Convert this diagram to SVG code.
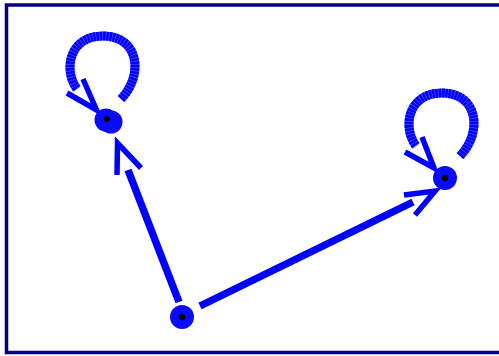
<svg xmlns="http://www.w3.org/2000/svg" width="499" height="356" viewBox="0 0 499 356">
<style>
.frame{fill:#fff;stroke:#000080;stroke-width:3.5}
.node{fill:#0a0aff}
.dot{fill:#000}
.shaft{stroke:#0000ff;stroke-width:7.5;fill:none;stroke-linecap:butt}
.head{stroke:#0000ff;stroke-width:5.5;fill:none;stroke-linecap:butt;stroke-linejoin:miter}
.loopbg{stroke:#5a5aff;stroke-width:9;fill:none}
.loop{stroke:#0000ff;stroke-width:9;fill:none;stroke-linecap:butt;stroke-dasharray:2.6 0.6}
</style>
<rect class="frame" x="6.5" y="5" width="500" height="347.5"/>
<g id="connectors">
<path class="shaft" d="M179,302 L128,170"/>
<path class="head" d="M117,175 L117.5,143 L141,168"/>
<path class="shaft" d="M200,306 L413,202"/>
<path class="head" d="M404,195 L435,191 L415,215"/>
<path class="loopbg" d="M121,99 C144,75 139,36 103,36 C69,36 63,70 77,89"/>
<path class="loop" d="M121,99 C144,75 139,36 103,36 C69,36 63,70 77,89"/>
<path class="head" d="M83,79 L96.5,110 L67,93"/>
<path class="loopbg" d="M460,156 C483,132 478,93 442,93 C408,93 402,127 416,146"/>
<path class="loop" d="M460,156 C483,132 478,93 442,93 C408,93 402,127 416,146"/>
<path class="head" d="M422,137 L434,168 L405,152"/>
</g>
<g id="node-a">
<circle class="node" cx="106" cy="120" r="11.5"/>
<circle class="node" cx="111" cy="122" r="11.5"/>
<circle class="dot" cx="107" cy="119" r="3"/>
</g>
<g id="node-b">
<circle class="node" cx="445" cy="178" r="12"/>
<circle class="dot" cx="445" cy="178" r="3.2"/>
</g>
<g id="node-c">
<circle class="node" cx="182" cy="317" r="12"/>
<circle class="dot" cx="182" cy="317" r="3.2"/>
</g>
</svg>
